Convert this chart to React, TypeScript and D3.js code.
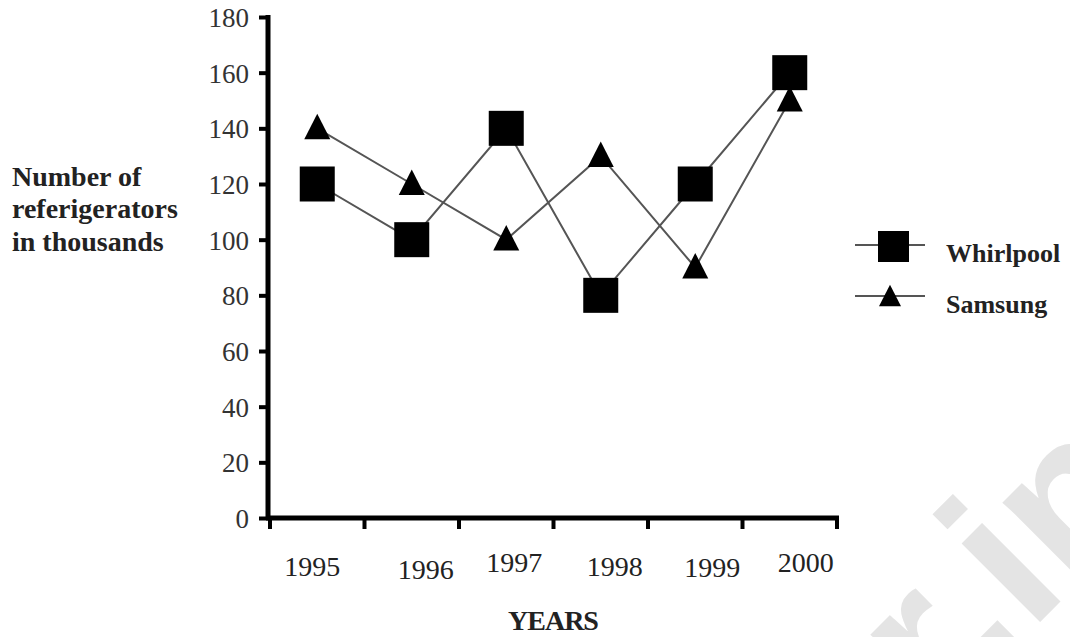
import React, { useEffect, useRef } from 'react';
import * as d3 from 'd3';

// values
const years = ['1995', '1996', '1997', '1998', '1999', '2000'];
const whirlpool = [120, 100, 140, 80, 120, 160];
const samsung = [140, 120, 100, 130, 90, 150];
const yTicks = [0, 20, 40, 60, 80, 100, 120, 140, 160, 180];
const yLabelLines = ['Number of', 'referigerators', 'in thousands'];
const seriesNames = ['Whirlpool', 'Samsung'];

// the year labels in the original sit a bit off their slots
const yearNudge = [[-5, 0], [14, 3], [8, -4], [14, 0], [17, 1], [16, -4]];

const W = 1070;
const H = 637;
const font = '"Liberation Serif", "Times New Roman", serif';

// taller-than-equilateral triangle like the original marker
const tallTriangle = {
  draw(ctx: any, size: number) {
    const w = Math.sqrt(size);
    ctx.moveTo(0, -w * 0.56);
    ctx.lineTo(w / 2, w * 0.42);
    ctx.lineTo(-w / 2, w * 0.42);
    ctx.closePath();
  },
};

export default function App() {
  const svgRef = useRef<SVGSVGElement>(null);

  useEffect(() => {
    if (!svgRef.current) return;
    const svg = d3.select(svgRef.current);
    svg.selectAll('*').remove();

    const x0 = 270, x1 = 837, yTop = 17, yBot = 518;

    const x = d3.scaleBand<string>().domain(years).range([x0, x1]);
    const y = d3.scaleLinear().domain([0, 180]).range([yBot, yTop]);
    const cx = (i: number) => (x(years[i]) || 0) + x.bandwidth() / 2;

    svg.append('rect').attr('width', W).attr('height', H).attr('fill', '#fff');

    // faint site watermark in the corner
    svg.append('text').attr('transform', 'translate(939,723) rotate(-45)')
      .attr('font-family', '"Liberation Sans", Arial, sans-serif').attr('font-size', 210)
      .attr('font-weight', 'bold').attr('fill', '#e4e4e4').text('r.in');

    // y axis
    const yAxis = svg.append('g').attr('transform', `translate(${x0 - 2},0)`)
      .call(d3.axisLeft(y).tickValues(yTicks).tickSize(9).tickPadding(10).tickSizeOuter(0));
    yAxis.select('.domain').attr('stroke', '#000').attr('stroke-width', 5)
      .attr('d', `M0,${yTop - 2}V${yBot + 2}`);
    yAxis.selectAll('.tick line').attr('stroke', '#000').attr('stroke-width', 4);
    yAxis.selectAll('.tick text').attr('font-family', font).attr('font-size', 27)
      .attr('fill', '#333').attr('dy', '0.35em');

    // x axis: ticks on band boundaries
    const bounds = years.map(d => x(d) || 0).concat([x1]);
    svg.append('line').attr('x1', x0 - 4).attr('x2', x1 + 2).attr('y1', yBot).attr('y2', yBot)
      .attr('stroke', '#000').attr('stroke-width', 5);
    svg.append('g').selectAll('line').data(bounds).enter().append('line')
      .attr('x1', d => d).attr('x2', d => d).attr('y1', yBot).attr('y2', yBot + 11)
      .attr('stroke', '#000').attr('stroke-width', 4);
    svg.append('g').selectAll('text').data(years).enter().append('text')
      .attr('x', (d, i) => cx(i) + yearNudge[i][0]).attr('y', (d, i) => 576 + yearNudge[i][1])
      .attr('text-anchor', 'middle').attr('font-family', font).attr('font-size', 28)
      .attr('fill', '#222').text(d => d);

    // axis titles
    svg.append('text').attr('x', 553).attr('y', 630).attr('text-anchor', 'middle')
      .attr('font-family', font).attr('font-size', 28).attr('font-weight', 'bold')
      .attr('letter-spacing', -1).attr('fill', '#222').text('YEARS');
    const yl = [186, 218, 251];
    svg.append('g').selectAll('text').data(yLabelLines).enter().append('text')
      .attr('x', 12).attr('y', (d, i) => yl[i])
      .attr('font-family', font).attr('font-size', 28).attr('font-weight', 'bold')
      .attr('fill', '#222').text(d => d);

    const line = d3.line<number>().x((d, i) => cx(i)).y(d => y(d));
    const lineColor = '#555';

    svg.append('path').datum(whirlpool).attr('d', line).attr('fill', 'none')
      .attr('stroke', lineColor).attr('stroke-width', 2);
    svg.append('path').datum(samsung).attr('d', line).attr('fill', 'none')
      .attr('stroke', lineColor).attr('stroke-width', 2);

    const sq = 35;
    svg.append('g').selectAll('rect').data(whirlpool).enter().append('rect')
      .attr('x', (d, i) => cx(i) - sq / 2).attr('y', d => y(d) - sq / 2)
      .attr('width', sq).attr('height', sq).attr('fill', '#000');

    const tri = d3.symbol().type(tallTriangle as any).size(26 * 26);
    svg.append('g').selectAll('path').data(samsung).enter().append('path')
      .attr('d', tri).attr('transform', (d, i) => `translate(${cx(i)},${y(d)})`)
      .attr('fill', '#000');

    // legend
    const lg = svg.append('g');
    seriesNames.forEach((name, i) => {
      const ly = 245 + i * 51;
      lg.append('line').attr('x1', 855).attr('x2', 925).attr('y1', ly).attr('y2', ly)
        .attr('stroke', lineColor).attr('stroke-width', 2);
      if (i === 0) {
        lg.append('rect').attr('x', 878).attr('y', ly - 14).attr('width', 31).attr('height', 31)
          .attr('fill', '#000');
      } else {
        lg.append('path').attr('d', d3.symbol().type(tallTriangle as any).size(22 * 22)())
          .attr('transform', `translate(890,${ly + 1})`).attr('fill', '#000');
      }
      lg.append('text').attr('x', 946).attr('y', ly + 17)
        .attr('font-family', font).attr('font-size', 26).attr('font-weight', 'bold')
        .attr('fill', '#222').text(name);
    });
  }, []);

  return (
    <div style={{ position: 'absolute', left: 0, top: 0 }}>
      <svg ref={svgRef} width={W} height={H} style={{ display: 'block' }} />
    </div>
  );
}
